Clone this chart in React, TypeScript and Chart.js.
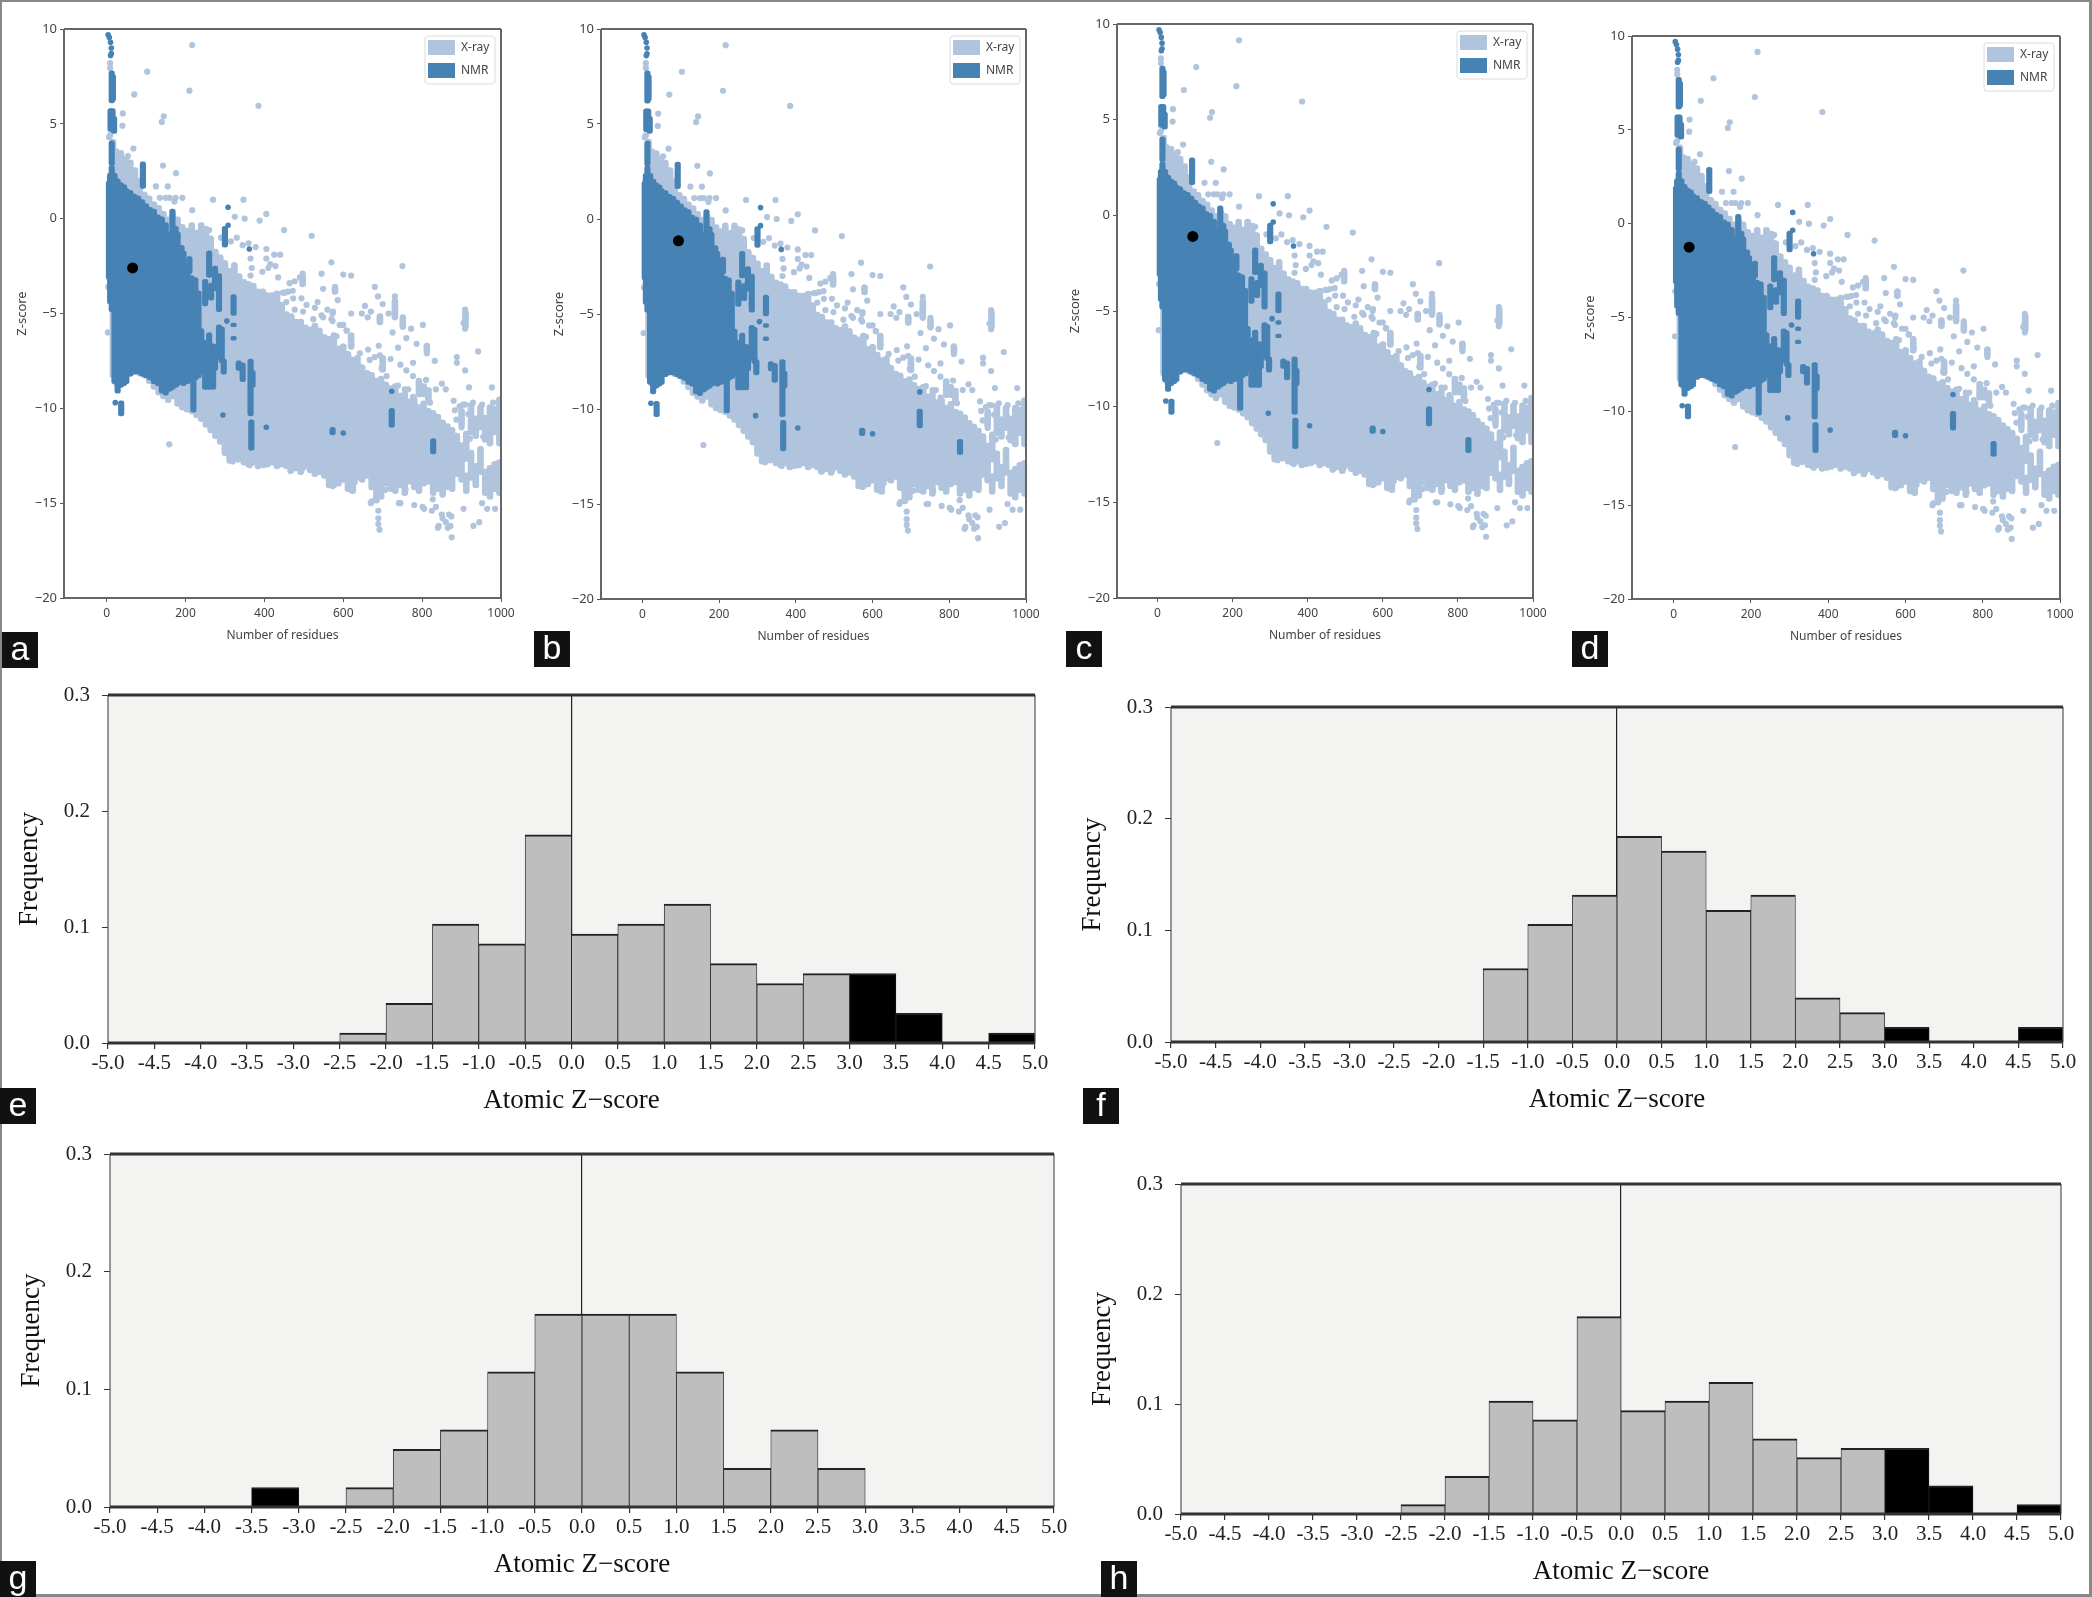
import React, { useEffect, useRef } from "react";
import { Chart, registerables } from "chart.js";

Chart.register(...registerables);

/* ---------- data ---------- */
const seriesNames = ["X-ray", "NMR"];
const scatterXTicks = [0, 200, 400, 600, 800, 1000];
const scatterYTicks = [10, 5, 0, -5, -10, -15, -20];
const xTitle = "Number of residues";
const yTitle = "Z-score";
const histXTitle = "Atomic Z\u2212score";
const histYTitle = "Frequency";

// residues, lowest z, highest z of the dense X-ray cloud
const xrayColumns: number[][] = [
  [16,-8.4,4.2],[24,-8.8,3.7],[36,-8.7,3.6],[48,-8.6,3.3],[60,-8.3,3.1],[72,-8.2,2.7],[84,-8.3,1.9],[96,-8.4,1.4],
  [108,-8.7,1.2],[120,-9.0,0.9],[132,-9.3,0.7],[144,-9.5,0.4],[156,-9.7,0.1],[168,-9.5,0.3],[180,-9.9,0.1],[192,-10.1,-0.3],
  [204,-10.2,-0.5],[216,-10.3,-0.2],[228,-10.5,-0.6],[240,-10.7,-0.5],[252,-11.0,-0.8],[264,-11.3,-1.2],[276,-11.6,-1.6],[288,-11.9,-1.9],
  [300,-12.5,-2.2],[312,-12.9,-2.6],[324,-12.8,-2.3],[336,-12.8,-2.9],[348,-13.0,-3.2],[360,-13.1,-3.3],[372,-13.0,-3.4],[384,-13.2,-3.7],
  [396,-13.0,-3.7],[408,-13.1,-3.9],[420,-13.0,-3.9],[432,-13.2,-3.8],[444,-13.1,-4.4],[456,-13.2,-4.9],[468,-13.4,-5.0],[480,-13.3,-5.3],
  [492,-13.5,-5.3],[504,-13.2,-5.6],[516,-13.4,-5.7],[528,-13.6,-5.5],[540,-13.5,-5.9],[552,-13.7,-6.1],[564,-14.2,-6.2],[576,-14.2,-6.0],
  [588,-14.1,-6.7],[600,-13.9,-6.6],[612,-14.4,-7.0],[624,-14.5,-7.3],[636,-13.8,-7.2],[648,-13.9,-7.7],[660,-13.7,-8.0],[672,-14.3,-8.1],
  [684,-15.0,-8.4],[696,-14.8,-8.3],[708,-14.1,-8.6],[720,-14.4,-8.8],[732,-14.5,-8.7],[744,-14.2,-9.2],[756,-14.6,-9.1],[768,-14.0,-9.5],
  [780,-14.3,-9.4],[792,-14.5,-9.8],[804,-14.1,-9.6],[816,-14.0,-10.0],[828,-14.6,-10.1],[840,-14.4,-10.3],[852,-14.7,-10.6],[864,-14.3,-10.8],
  [876,-14.4,-11.0],[888,-13.6,-11.3],[900,-13.9,-11.8],[900,-11.0,-10.0],[912,-12.8,-11.2],[912,-14.5,-13.4],[924,-13.8,-12.2],[924,-11.4,-9.7],
  [936,-14.2,-12.9],[936,-11.6,-10.4],[948,-13.5,-12.0],[948,-11.0,-9.8],[960,-14.6,-13.2],[960,-11.8,-10.4],[972,-14.8,-13.0],[972,-12.0,-9.8],
  [984,-14.4,-12.8],[984,-11.4,-9.9],[996,-14.6,-12.7],[996,-12.0,-9.4],
  [240,-1.2,-0.2],[252,-1.5,-0.4],[264,-1.9,-0.9],[620,-6.9,-6.0],[700,-8.1,-7.2],[792,-9.4,-8.4],[804,-9.4,-8.7],[816,-9.7,-8.9],
  [910,-5.8,-4.8],[497,-3.6,-2.9],[579,-4.0,-3.5],[731,-5.3,-4.2],[751,-5.8,-5.2],[812,-7.1,-6.6],[693,-5.6,-5.0],
];

// residues, lowest z, highest z of the NMR block and its strips
const nmrColumns: number[][] = [
  [6,-3.2,2.0],[9,-4.5,2.4],[13,-4.9,2.8],[13,2.8,4.1],[20,-8.7,2.4],[10,4.6,5.8],[15,4.6,5.8],[19,4.5,5.4],[13,6.1,7.8],[16,6.2,7.6],
  [28,-9.2,2.1],[36,-8.9,1.9],[44,-8.8,1.8],[50,-8.7,1.6],[60,-8.3,1.5],[70,-8.2,1.3],
  [80,-8.2,1.2],[90,-8.3,1.0],[100,-8.4,0.8],[110,-8.5,0.6],[120,-8.7,0.5],[130,-8.8,0.2],[140,-9.2,0.1],[150,-9.3,-0.2],
  [160,-9.1,-0.7],[167,-9.0,0.5],[175,-8.9,-0.4],[180,-8.8,-0.7],[190,-8.7,-1.4],[195,-8.8,-1.7],[205,-8.7,-2.4],
  [215,-8.6,-3.0],[225,-8.5,-3.1],[233,-8.4,-3.8],
  [92,1.6,3.0],[220,-10.2,-8.4],[210,-2.9,-2.0],[260,-3.1,-1.7],[250,-4.6,-3.2],[265,-4.3,-3.4],[275,-3.8,-2.5],[285,-4.9,-2.9],[300,-1.5,-0.4],
  [322,-5.1,-4.0],[240,-8.2,-5.8],[250,-9.0,-6.4],[260,-9.0,-6.0],[270,-9.0,-6.6],[275,-8.0,-6.8],[285,-7.4,-5.6],[292,-7.6,-5.7],[297,-8.2,-7.4],
  [322,-6.4,-6.2],[322,-5.7,-5.5],[335,-8.0,-7.5],[345,-8.6,-7.6],[365,-10.4,-7.4],[370,-8.9,-8.0],[367,-12.2,-10.6],[573,-11.4,-11.0],
  [723,-11.0,-10.0],[828,-12.4,-11.6],[37,-10.4,-9.6],
];

// single X-ray marks outside the dense cloud: residues, z
const xrayPoints: number[][] = [
  [217,9.15],[103,7.75],[210,6.75],[70,6.55],[385,5.95],[41,5.55],[145,5.4],[140,5.1],[40,4.9],[68,3.7],[143,2.8],[176,2.4],[54,3.3],[85,2.0],
  [125,1.7],[155,1.7],[135,1.1],[150,1.1],[160,1.1],[175,1.1],[192,1.1],[172,0.9],[270,1.0],[347,1.0],[217,0.45],[405,0.25],[325,0.1],[350,0.0],
  [388,-0.1],[450,-0.6],[520,-0.9],[570,-2.3],[600,-2.95],[620,-3.0],[750,-2.5],[3,-6.0],[159,-11.9],[4,-3.6],[9,8.2],[9,7.95],[6,4.3],[9,4.4],
  [260,-0.6],[290,-1.0],[315,-1.2],[330,-1.0],[345,-1.4],[360,-1.3],[378,-1.5],[405,-1.6],[425,-1.9],[440,-1.9],[365,-2.1],[368,-2.6],[365,-3.0],
  [405,-2.1],[415,-2.4],[428,-2.5],[395,-2.8],[410,-2.6],[435,-3.1],[490,-3.1],[497,-2.9],[545,-2.9],[464,-3.4],[477,-3.3],[549,-3.7],[579,-3.6],
  [680,-3.6],[731,-4.1],[688,-4.1],[472,-3.8],[452,-3.9],[586,-4.3],[700,-4.5],[909,-4.8],[909,-5.3],[909,-5.8],[905,-5.5],[647,-5.0],[662,-5.2],
  [731,-4.8],[731,-5.2],[751,-5.2],[751,-5.7],[772,-5.8],[802,-5.6],[693,-5.3],[573,-5.0],[573,-5.4],[609,-5.9],[812,-6.7],[812,-7.1],[786,-6.6],
  [739,-6.8],[690,-6.7],[693,-7.2],[832,-7.5],[777,-7.6],[942,-7.0],[888,-7.3],[888,-7.6],[909,-8.0],[919,-8.9],[977,-8.9],[777,-8.3],[810,-8.5],
  [909,-9.8],[929,-9.7],[952,-9.8],[980,-9.7],[655,-4.6],[670,-4.9],[715,-5.0],[760,-6.3],[725,-6.0],[620,-5.0],[535,-4.4],[560,-4.8],[600,-5.6],
  [850,-8.7],[860,-9.0],[835,-9.0],[880,-9.6],[895,-9.9],[680,-7.3],[720,-7.4],[745,-7.7],[760,-8.0],
  [689,-15.4],[689,-15.8],[689,-16.1],[692,-16.4],[875,-16.8],[872,-16.2],[868,-15.6],[860,-16.0],[850,-15.6],[842,-16.2],[835,-15.2],[825,-15.4],
  [805,-15.3],[930,-16.2],[945,-16.0],[905,-15.3],[745,-15.0],[780,-15.1],[965,-15.3],[985,-15.3],[952,-15.0],[670,-15.0],
  [447,-3.9],[460,-3.85],[473,-4.2],[494,-4.2],[507,-4.55],[528,-4.7],[545,-5.1],[456,-4.4],[498,-4.9],[477,-4.8],[574,-4.9],[570,-5.3],[591,-5.6],[549,-5.2],[608,-5.9],
  [524,-5.3],[540,-5.9],[583,-6.2],[574,-6.4],[621,-6.6],[600,-6.75],[642,-7.1],[663,-6.9],[667,-7.45],[629,-7.6],[642,-7.8],[697,-7.9],[710,-8.3],[739,-8.8],[765,-9.0],
  [794,-8.85],[811,-9.2],[756,-9.0],[777,-9.4],[820,-9.7],[883,-10.1],[904,-9.8],[887,-10.6],[917,-10.3],[959,-10.5],[947,-11.0],[900,-11.0],[921,-11.6],[955,-11.5],[980,-11.1],
  [320,-12.8],[333,-12.7],[363,-13.0],[397,-13.0],[440,-12.9],[466,-13.3],[496,-13.2],[526,-13.3],[573,-14.1],[586,-13.9],[620,-14.3],[629,-13.9],[672,-14.9],[685,-14.8],
  [706,-14.3],[741,-15.0],[758,-14.3],[801,-15.2],[827,-14.8],[840,-16.3],[852,-15.8],[865,-16.3],[874,-15.7],
];

// single NMR marks: residues, z
const nmrPoints: number[][] = [
  [308,0.6],[308,-0.35],[362,-1.6],[405,-11.0],[600,-11.3],[723,-9.1],[295,-10.35],[22,-9.7],[305,-5.4],
  [4,9.7],[7,9.55],[10,9.3],[12,9.0],[12,8.7],[10,8.6],
];

// black mark of each scatter panel: residues, z
const targetA = [66, -2.6];
const targetB = [94, -1.15];
const targetC = [94, -1.1];
const targetD = [40, -1.25];

// histogram bins: left edge of each of the twenty half-unit bins
const binEdges = [-5,-4.5,-4,-3.5,-3,-2.5,-2,-1.5,-1,-0.5,0,0.5,1,1.5,2,2.5,3,3.5,4,4.5];
const histE = [0,0,0,0,0,0.0085,0.0342,0.1026,0.0855,0.1795,0.094,0.1026,0.1197,0.0684,0.0513,0.0598,0.0598,0.0256,0,0.0085];
const histF = [0,0,0,0,0,0,0,0.0658,0.1053,0.1316,0.1842,0.171,0.118,0.1316,0.0395,0.0263,0.0132,0,0,0.0132];
const histG = [0,0,0,0.0164,0,0.0164,0.049,0.0656,0.1148,0.164,0.164,0.164,0.1148,0.0328,0.0656,0.0328,0,0,0,0];
const histH = [0,0,0,0,0,0.0085,0.0342,0.1026,0.0855,0.1795,0.094,0.1026,0.1197,0.0684,0.0513,0.0598,0.0598,0.0256,0,0.0085];

/* ---------- layout ---------- */
const scatterPanels = [
  { id: "a", target: targetA, l: 64, r: 501, t: 29, b: 598, box: [2, 632] },
  { id: "b", target: targetB, l: 600.5, r: 1025, t: 28.5, b: 598, box: [534, 631] },
  { id: "c", target: targetC, l: 1117, r: 1533, t: 24, b: 597.5, box: [1066, 631] },
  { id: "d", target: targetD, l: 1632, r: 2060, t: 35.5, b: 598, box: [1572, 631] },
];
const histPanels = [
  { id: "e", values: histE, l: 108, r: 1034.5, t: 695, b: 1043, box: [0, 1088] },
  { id: "f", values: histF, l: 1170.5, r: 2062.5, t: 707, b: 1042, box: [1083, 1088] },
  { id: "g", values: histG, l: 110, r: 1054, t: 1154, b: 1507, box: [0, 1561] },
  { id: "h", values: histH, l: 1180.5, r: 2060, t: 1184, b: 1514, box: [1101, 1561] },
];

const steel = "#4682B4";
const lightSteel = "#B0C4DE";

const toPoints = (rows: number[][]) => rows.map(([x, y]) => ({ x, y }));
const toColumns = (rows: number[][]) => rows.map(([x, lo, hi]) => ({ x, y: [lo, hi] }));

const framePlugin = (color: string, side: number, edge: number, edgeColor: string) => ({
  id: "frame",
  afterDatasetsDraw(chart: any) {
    const { left, right, top, bottom } = chart.chartArea;
    const c = chart.ctx;
    c.save();
    c.strokeStyle = color;
    c.lineWidth = side;
    c.beginPath();
    c.moveTo(left, top);
    c.lineTo(left, bottom);
    c.moveTo(right, top);
    c.lineTo(right, bottom);
    c.stroke();
    c.strokeStyle = edgeColor;
    c.lineWidth = edge;
    c.beginPath();
    c.moveTo(left, top);
    c.lineTo(right, top);
    c.moveTo(left, bottom);
    c.lineTo(right, bottom);
    c.stroke();
    c.restore();
  },
});

const legendPlugin = {
  id: "cornerLegend",
  afterDraw(chart: any) {
    const { right, top } = chart.chartArea;
    const c = chart.ctx;
    const x = right - 76;
    const y = top + 7;
    c.save();
    c.fillStyle = "rgba(255,255,255,0.9)";
    c.strokeStyle = "#dcdcdc";
    c.lineWidth = 1;
    c.beginPath();
    c.roundRect(x, y, 70, 48, 3);
    c.fill();
    c.stroke();
    c.fillStyle = lightSteel;
    c.fillRect(x + 3, y + 4, 27, 15);
    c.fillStyle = steel;
    c.fillRect(x + 3, y + 27, 27, 15);
    c.fillStyle = "#444";
    c.font = "12px 'Noto Sans'";
    c.textBaseline = "middle";
    c.fillText(seriesNames[0], x + 36, y + 12);
    c.fillText(seriesNames[1], x + 36, y + 35);
    c.restore();
  },
};

const backgroundPlugin = {
  id: "plotBackground",
  beforeDraw(chart: any) {
    const { left, right, top, bottom } = chart.chartArea;
    chart.ctx.save();
    chart.ctx.fillStyle = "#F3F3F2";
    chart.ctx.fillRect(left, top, right - left, bottom - top);
    chart.ctx.restore();
  },
};

const SM = { left: 64, top: 12, right: 32, bottom: 54 };
const HM = { left: 106, top: 30, right: 34, bottom: 84 };

function makeScatter(canvas: HTMLCanvasElement, p: any) {
  return new Chart(canvas, {
    type: "bar",
    data: {
      datasets: [
        { type: "scatter", data: toPoints([p.target]), backgroundColor: "#000", borderWidth: 0, pointRadius: 5.5, order: 0 },
        { type: "scatter", data: toPoints(nmrPoints), backgroundColor: steel, borderWidth: 0, pointRadius: 2.8, order: 1 },
        { type: "bar", label: seriesNames[1], data: toColumns(nmrColumns), backgroundColor: steel, barThickness: 5.5, grouped: false, borderRadius: 2.5, borderSkipped: false, order: 2 },
        { type: "scatter", data: toPoints(xrayPoints), backgroundColor: lightSteel, borderWidth: 0, pointRadius: 3.1, order: 3 },
        { type: "bar", label: seriesNames[0], data: toColumns(xrayColumns), backgroundColor: lightSteel, barThickness: 6, grouped: false, borderRadius: 3, borderSkipped: false, order: 4 },
      ] as any,
    },
    plugins: [framePlugin("#666", 2, 2, "#666"), legendPlugin],
    options: {
      animation: false,
      responsive: false,
      events: [],
      layout: { padding: { top: SM.top, right: SM.right } },
      plugins: { legend: { display: false }, tooltip: { enabled: false } },
      scales: {
        x: {
          type: "linear",
          min: -108,
          max: 1000,
          offset: false,
          afterFit: (s: any) => { s.height = SM.bottom; },
          afterBuildTicks: (s: any) => { s.ticks = scatterXTicks.map((value) => ({ value })); },
          ticks: { font: { family: "'Noto Sans'", size: 12 }, color: "#444", padding: 4, maxRotation: 0, autoSkip: false, callback: (v: any) => String(v) },
          grid: { offset: false, drawOnChartArea: false, drawTicks: true, tickLength: 4, tickColor: "#555" },
          border: { display: false },
          title: { display: true, text: xTitle, color: "#444", font: { family: "'Noto Sans'", size: 12 }, padding: { top: 0, bottom: 9 } },
        },
        y: {
          min: -20,
          max: 10,
          afterFit: (s: any) => { s.width = SM.left; },
          afterBuildTicks: (s: any) => { s.ticks = scatterYTicks.map((value) => ({ value })); },
          ticks: {
            font: { family: "'Noto Sans'", size: 13 },
            color: "#444",
            padding: 3,
            callback: (v: any) => String(v).replace("-", "\u2212"),
          },
          grid: { drawOnChartArea: false, drawTicks: true, tickLength: 4, tickColor: "#555" },
          border: { display: false },
          title: { display: true, text: yTitle, color: "#444", font: { family: "'Noto Sans'", size: 13 }, padding: { top: 14, bottom: 0 } },
        },
      },
    } as any,
  });
}

function makeHist(canvas: HTMLCanvasElement, p: any) {
  const serif = "'Liberation Serif'";
  return new Chart(canvas, {
    type: "bar",
    data: {
      datasets: [
        {
          data: binEdges.map((edge, i) => ({ x: edge + 0.25, y: p.values[i] })),
          backgroundColor: (c: any) => (c.raw && (c.raw.x > 3 || c.raw.x < -3) ? "#000" : "#BEBEBE"),
          borderColor: "#222",
          borderWidth: (c: any) => (c.raw && c.raw.y > 0 ? { top: 2, left: 0.8, right: 0.8, bottom: 0 } : 0),
          barPercentage: 1,
          categoryPercentage: 1,
        },
      ] as any,
    },
    plugins: [backgroundPlugin, framePlugin("#555", 1.2, 3, "#333")],
    options: {
      animation: false,
      responsive: false,
      events: [],
      layout: { padding: { top: HM.top, right: HM.right } },
      plugins: { legend: { display: false }, tooltip: { enabled: false } },
      scales: {
        x: {
          type: "linear",
          min: -5,
          max: 5,
          offset: false,
          afterFit: (s: any) => { s.height = HM.bottom; },
          ticks: {
            stepSize: 0.5,
            font: { family: serif, size: 21 },
            color: "#222",
            padding: 2,
            maxRotation: 0,
            autoSkip: false,
            callback: (v: any) => Number(v).toFixed(1),
          },
          grid: {
            offset: false,
            drawTicks: true,
            tickLength: 6,
            tickColor: "#333",
            color: (c: any) => (c.tick && c.tick.value === 0 ? "#222" : "rgba(0,0,0,0)"),
            lineWidth: 1.2,
          },
          border: { display: false },
          title: { display: true, text: histXTitle, color: "#111", font: { family: serif, size: 27 }, padding: { top: 0, bottom: 10 } },
        },
        y: {
          min: 0,
          max: 0.3,
          afterFit: (s: any) => { s.width = HM.left; },
          ticks: {
            stepSize: 0.1,
            font: { family: serif, size: 21 },
            color: "#222",
            padding: 12,
            callback: (v: any) => Number(v).toFixed(1),
          },
          grid: { drawOnChartArea: false, drawTicks: true, tickLength: 6, tickColor: "#333" },
          border: { display: false },
          title: { display: true, text: histYTitle, color: "#111", font: { family: serif, size: 27 }, padding: { top: 12, bottom: 0 } },
        },
      },
    } as any,
  });
}

function Panel({ p, kind }: { p: any; kind: "scatter" | "hist" }) {
  const ref = useRef<HTMLCanvasElement>(null);
  const m = kind === "scatter" ? SM : HM;
  const width = Math.round(p.r - p.l + m.left + m.right);
  const height = Math.round(p.b - p.t + m.top + m.bottom);
  useEffect(() => {
    const chart = kind === "scatter" ? makeScatter(ref.current!, p) : makeHist(ref.current!, p);
    return () => chart.destroy();
  }, []);
  return (
    <canvas
      ref={ref}
      width={width}
      height={height}
      style={{
        position: "absolute",
        left: p.l - m.left,
        top: p.t - m.top,
        width,
        height,
        filter: kind === "scatter" ? "blur(0.6px)" : "blur(0.4px)",
      }}
    />
  );
}

function Tag({ p }: { p: any }) {
  return (
    <div
      style={{
        position: "absolute",
        left: p.box[0],
        top: p.box[1],
        width: 36,
        height: 36,
        background: "#111",
        color: "#fff",
        font: "34px/33px 'Liberation Sans'",
        textAlign: "center",
      }}
    >
      {p.id}
    </div>
  );
}

export default function App() {
  return (
    <div
      style={{
        position: "absolute",
        left: 0,
        top: 0,
        width: 2092,
        height: 1597,
        boxSizing: "border-box",
        borderStyle: "solid",
        borderColor: "#888",
        borderWidth: "2px 3px 3px 2px",
        background: "#fff",
      }}
    >
      <div style={{ position: "absolute", left: -2, top: -2, width: 2092, height: 1597 }}>
        {scatterPanels.map((p) => <Panel key={p.id} p={p} kind="scatter" />)}
        {histPanels.map((p) => <Panel key={p.id} p={p} kind="hist" />)}
        {[...scatterPanels, ...histPanels].map((p) => <Tag key={p.id} p={p} />)}
      </div>
    </div>
  );
}
